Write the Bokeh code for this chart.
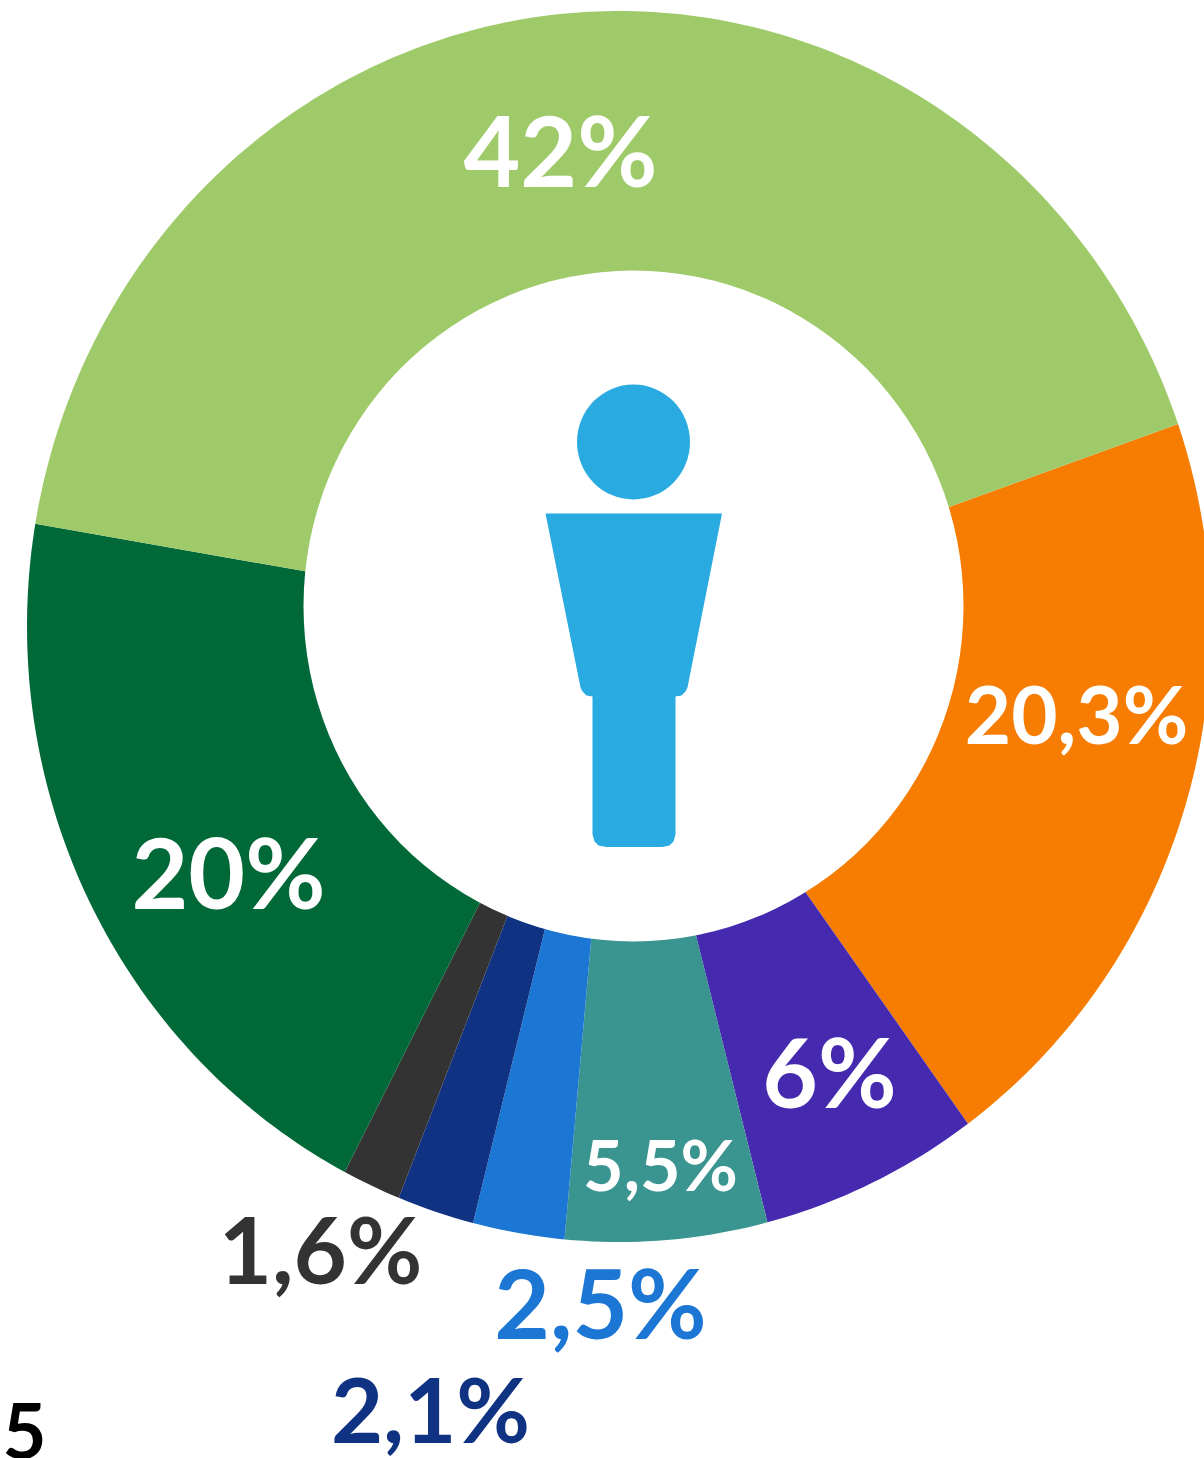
import math
from bokeh.plotting import figure
from bokeh.embed import file_html
from bokeh.resources import INLINE
from bokeh.core.properties import value

# Data, clockwise from the start angle
labels = ["20,3%", "6%", "5,5%", "2,5%", "2,1%", "1,6%", "20%", "42%"]
shares = [20.3, 6, 5.5, 2.5, 2.1, 1.6, 20, 42]
colors = ["#F77C02", "#452AB0", "#3A9490", "#1B76D4", "#103282", "#333333", "#016838", "#9FCA6A"]
label_colors = ["white", "white", "white", "#1B76D4", "#103282", "#333333", "white", "white"]

# Layout
CX, CY, RX, RY = 618.5, 626, 592, 615.5
START = 19.2
label_x = [1076, 829, 660, 600, 430, 320, 228, 560]
label_y = [712, 1070, 1163, 1301, 1407, 1248, 870, 148]
label_size = [80, 96, 70, 96, 90, 92, 98, 98]

p = figure(width=1204, height=1458, x_range=(0, 1204), y_range=(1458, 0),
           output_backend="svg", toolbar_location=None, min_border=0,
           x_axis_type=None, y_axis_type=None, outline_line_color=None)
p.grid.visible = False

xs, ys = [], []
a = START
for s in shares:
    n = max(int(s * 4), 8)
    pts = [a - s * 3.6 * i / n for i in range(n + 1)]
    xs.append([CX] + [CX + RX * math.cos(math.radians(t)) for t in pts])
    ys.append([CY] + [CY - RY * math.sin(math.radians(t)) for t in pts])
    a -= s * 3.6
p.patches(xs, ys, fill_color=colors, line_color=None)

# Hole
p.ellipse(x=[633], y=[605.5], width=[660], height=[671], fill_color="white", line_color=None)

# Person icon
ICON = "#29ABE2"
p.ellipse(x=[633], y=[441.5], width=[113], height=[115], fill_color=ICON, line_color=None)
p.patch(x=[545, 721.5, 687, 685, 681, 675, 675, 673, 669, 662, 606, 598, 594, 592, 592, 586, 582, 580],
        y=[513, 513, 687, 691, 695, 696, 834, 841, 845, 846.5, 846.5, 845, 841, 834, 696, 695, 691, 687],
        fill_color=ICON, line_color=None)

for lab, x, y, col, sz in zip(labels, label_x, label_y, label_colors, label_size):
    p.text(x=[x], y=[y], text=[lab], text_color=col, text_font=value("Lato"), text_font_size=f"{sz}px",
           text_font_style="bold", text_align="center", text_baseline="alphabetic")
p.text(x=[24], y=[1430], text=["5"], text_color="black", text_font=value("Lato"), text_font_size="76px",
       text_font_style="bold", text_align="center", text_baseline="alphabetic")

open("out.html", "w").write(file_html(p, INLINE))
